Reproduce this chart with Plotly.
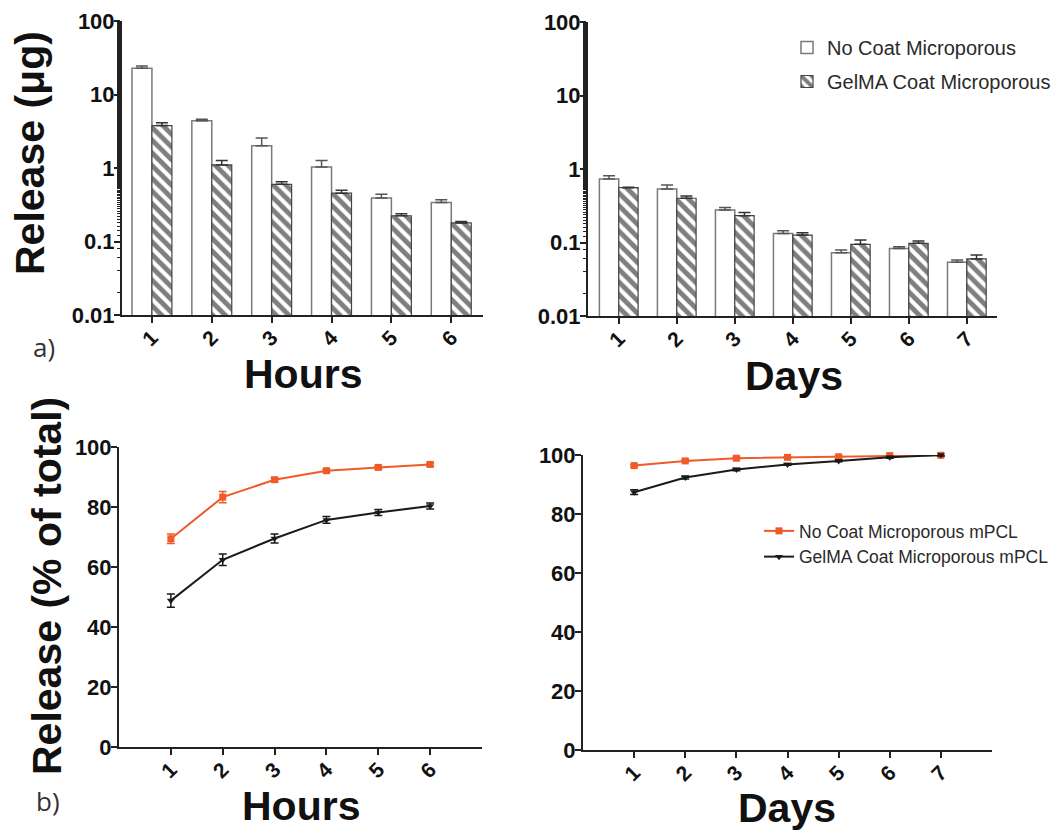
import plotly.graph_objects as go

# ---------------- data ----------------
hours = [1, 2, 3, 4, 5, 6]
days = [1, 2, 3, 4, 5, 6, 7]

# a) release (ug), log scale
hours_nocoat = [22.7, 4.4, 2.0, 1.03, 0.39, 0.34]
hours_nocoat_err = [1.7, 0.2, 0.56, 0.23, 0.05, 0.03]
hours_gelma = [3.78, 1.1, 0.6, 0.455, 0.224, 0.179]
hours_gelma_err = [0.36, 0.16, 0.05, 0.045, 0.015, 0.008]

days_nocoat = [0.73, 0.535, 0.277, 0.133, 0.0726, 0.083, 0.0537]
days_nocoat_err = [0.08, 0.07, 0.023, 0.012, 0.0064, 0.0047, 0.0041]
days_gelma = [0.557, 0.40, 0.232, 0.126, 0.0944, 0.0975, 0.0597]
days_gelma_err = [0.008, 0.03, 0.023, 0.01, 0.0136, 0.0075, 0.0079]

# b) cumulative release (% of total)
cum_hours_nocoat = [69.4, 83.3, 89.1, 92.1, 93.2, 94.2]
cum_hours_nocoat_err = [1.6, 1.9, 0.6, 0.5, 0.5, 0.5]
cum_hours_gelma = [48.8, 62.4, 69.5, 75.7, 78.2, 80.3]
cum_hours_gelma_err = [2.2, 1.9, 1.5, 1.1, 1.0, 1.0]

cum_days_nocoat = [96.4, 98.0, 98.9, 99.2, 99.4, 99.8, 99.9]
cum_days_nocoat_err = [0.4, 0.4, 0.3, 0.3, 0.3, 0.2, 0.2]
cum_days_gelma = [87.4, 92.4, 95.1, 96.8, 98.0, 99.2, 100.0]
cum_days_gelma_err = [0.8, 0.5, 0.4, 0.3, 0.3, 0.3, 0.3]

bar_names = ["No Coat Microporous", "GelMA Coat Microporous"]
line_names = ["No Coat Microporous mPCL", "GelMA Coat Microporous mPCL"]

# ---------------- style ----------------
W, H = 1064, 830
OFF = 8  # page body margin offset
FONT = "Liberation Sans"
ORANGE = "#F05A28"
DARK = "#1a1a1a"


def px(x):
    return (x - OFF) / W


def py(y):
    return 1 - (y - OFF) / H


fig = go.Figure()


def add_bars(x, nocoat, nocoat_err, gelma, gelma_err, xa, ya, show):
    fig.add_trace(go.Bar(
        x=x, y=nocoat, name=bar_names[0], xaxis=xa, yaxis=ya,
        marker=dict(color="white", line=dict(color="#7a7a7a", width=1.5)),
        error_y=dict(type="data", symmetric=False, array=nocoat_err,
                     arrayminus=[0] * len(x), color="#555555",
                     thickness=1.5, width=6),
        showlegend=show, legend="legend", legendgroup="nc",
    ))
    fig.add_trace(go.Bar(
        x=x, y=gelma, name=bar_names[1], xaxis=xa, yaxis=ya,
        marker=dict(color="white", line=dict(color="#444444", width=1.2),
                    pattern=dict(shape="\\", fgcolor="black", bgcolor="white",
                                 size=9, solidity=0.55)),
        error_y=dict(type="data", symmetric=False, array=gelma_err,
                     arrayminus=[0] * len(x), color="#333333",
                     thickness=1.5, width=6),
        showlegend=show, legend="legend", legendgroup="gc",
    ))


def add_lines(x, nocoat, nocoat_err, gelma, gelma_err, xa, ya, show):
    fig.add_trace(go.Scatter(
        x=x, y=nocoat, name=line_names[0], xaxis=xa, yaxis=ya,
        mode="lines+markers", cliponaxis=False,
        line=dict(color=ORANGE, width=2),
        marker=dict(symbol="square", size=7, color=ORANGE),
        error_y=dict(type="data", array=nocoat_err, color=ORANGE,
                     thickness=1.5, width=4),
        showlegend=show, legend="legend2", legendgroup="lnc",
    ))
    fig.add_trace(go.Scatter(
        x=x, y=gelma, name=line_names[1], xaxis=xa, yaxis=ya,
        mode="lines+markers", cliponaxis=False,
        line=dict(color=DARK, width=2),
        marker=dict(symbol="triangle-down", size=7, color=DARK),
        error_y=dict(type="data", array=gelma_err, color=DARK,
                     thickness=1.5, width=4),
        showlegend=show, legend="legend2", legendgroup="lgc",
    ))


add_bars(hours, hours_nocoat, hours_nocoat_err, hours_gelma, hours_gelma_err, "x", "y", False)
add_bars(days, days_nocoat, days_nocoat_err, days_gelma, days_gelma_err, "x2", "y2", True)
add_lines(hours, cum_hours_nocoat, cum_hours_nocoat_err, cum_hours_gelma, cum_hours_gelma_err, "x3", "y3", False)
add_lines(days, cum_days_nocoat, cum_days_nocoat_err, cum_days_gelma, cum_days_gelma_err, "x4", "y4", True)

tickfont = dict(family=FONT, size=22, color="#111111", weight="bold")
xtickfont = dict(family=FONT, size=21, color="#111111", weight="bold")

common_x = dict(showline=True, linecolor="#222222", linewidth=2, ticks="outside",
                ticklen=6, tickwidth=1.5, tickcolor="#222222", tickangle=-45,
                tickfont=xtickfont, showgrid=False, zeroline=False, tickmode="array",
                automargin=False, ticklabelstandoff=-6, ticklabeloverflow="allow")
common_y = dict(showline=True, linecolor="#222222", linewidth=2, ticks="outside",
                ticklen=6, tickwidth=1.5, tickcolor="#222222",
                tickfont=tickfont, showgrid=False, zeroline=False, automargin=False,
                ticklabelstandoff=-5, ticklabeloverflow="allow")

log_y = dict(type="log", range=[-2, 2], tickmode="array",
             tickvals=[0.01, 0.1, 1, 10, 100], ticktext=["0.01", "0.1", "1", "10", "100"],
             minor=dict(ticks="outside", ticklen=3, tickwidth=1, tickcolor="#222222",
                        showgrid=False))
lin_y = dict(range=[0, 100], tickmode="array", tickvals=[0, 20, 40, 60, 80, 100])

fig.update_layout(
    width=W, height=H,
    margin=dict(l=0, r=0, t=0, b=0, pad=0, autoexpand=False),
    paper_bgcolor="white", plot_bgcolor="white",
    barmode="group", bargap=0.333, bargroupgap=0,
    showlegend=True,
    xaxis=dict(domain=[px(122), px(483)], range=[0.5, 6.53], anchor="y",
               tickvals=hours, ticktext=[str(h) for h in hours], **common_x),
    yaxis=dict(domain=[py(315), py(21)], anchor="x", **log_y, **common_y),
    xaxis2=dict(domain=[px(588), px(997)], range=[0.47, 7.52], anchor="y2",
                tickvals=days, ticktext=[str(d) for d in days], **common_x),
    yaxis2=dict(domain=[py(316), py(22)], anchor="x2", **log_y, **common_y),
    xaxis3=dict(domain=[px(119), px(482)], range=[0, 7], anchor="y3",
                tickvals=hours, ticktext=[str(h) for h in hours], **common_x),
    yaxis3=dict(domain=[py(747), py(447)], anchor="x3", **lin_y, **common_y),
    xaxis4=dict(domain=[px(583), px(992)], range=[0, 8], anchor="y4",
                tickvals=days, ticktext=[str(d) for d in days], **common_x),
    yaxis4=dict(domain=[py(750), py(455)], anchor="x4", **lin_y, **common_y),
    legend=dict(x=px(787), y=py(28), xanchor="left", yanchor="top",
                font=dict(family=FONT, size=20, color="#2a2a2a"),
                bgcolor="rgba(0,0,0,0)", tracegroupgap=5, itemwidth=30),
    legend2=dict(x=px(759), y=py(513), xanchor="left", yanchor="top",
                 font=dict(family=FONT, size=17.5, color="#2a2a2a"),
                 bgcolor="rgba(0,0,0,0)", tracegroupgap=0, itemwidth=30),
)

title_font = dict(family=FONT, size=41, color="#111111", weight="bold")
annots = [
    dict(text="Release (μg)", x=px(30), y=py(153), textangle=-90, font=title_font),
    dict(text="Release (% of total)", x=px(47), y=py(586), textangle=-90, font=title_font),
    dict(text="Hours", x=px(303), y=py(374), font=title_font),
    dict(text="Days", x=px(794), y=py(376), font=title_font),
    dict(text="Hours", x=px(301), y=py(806), font=title_font),
    dict(text="Days", x=px(787), y=py(808), font=title_font),
    dict(text="a)", x=px(44), y=py(347), font=dict(family="Open Sans", size=26, color="#333333")),
    dict(text="b)", x=px(48), y=py(801), font=dict(family="Open Sans", size=26, color="#333333")),
]
for a in annots:
    fig.add_annotation(xref="paper", yref="paper", showarrow=False,
                       xanchor="center", yanchor="middle", **a)

fig.write_html("out.html")
